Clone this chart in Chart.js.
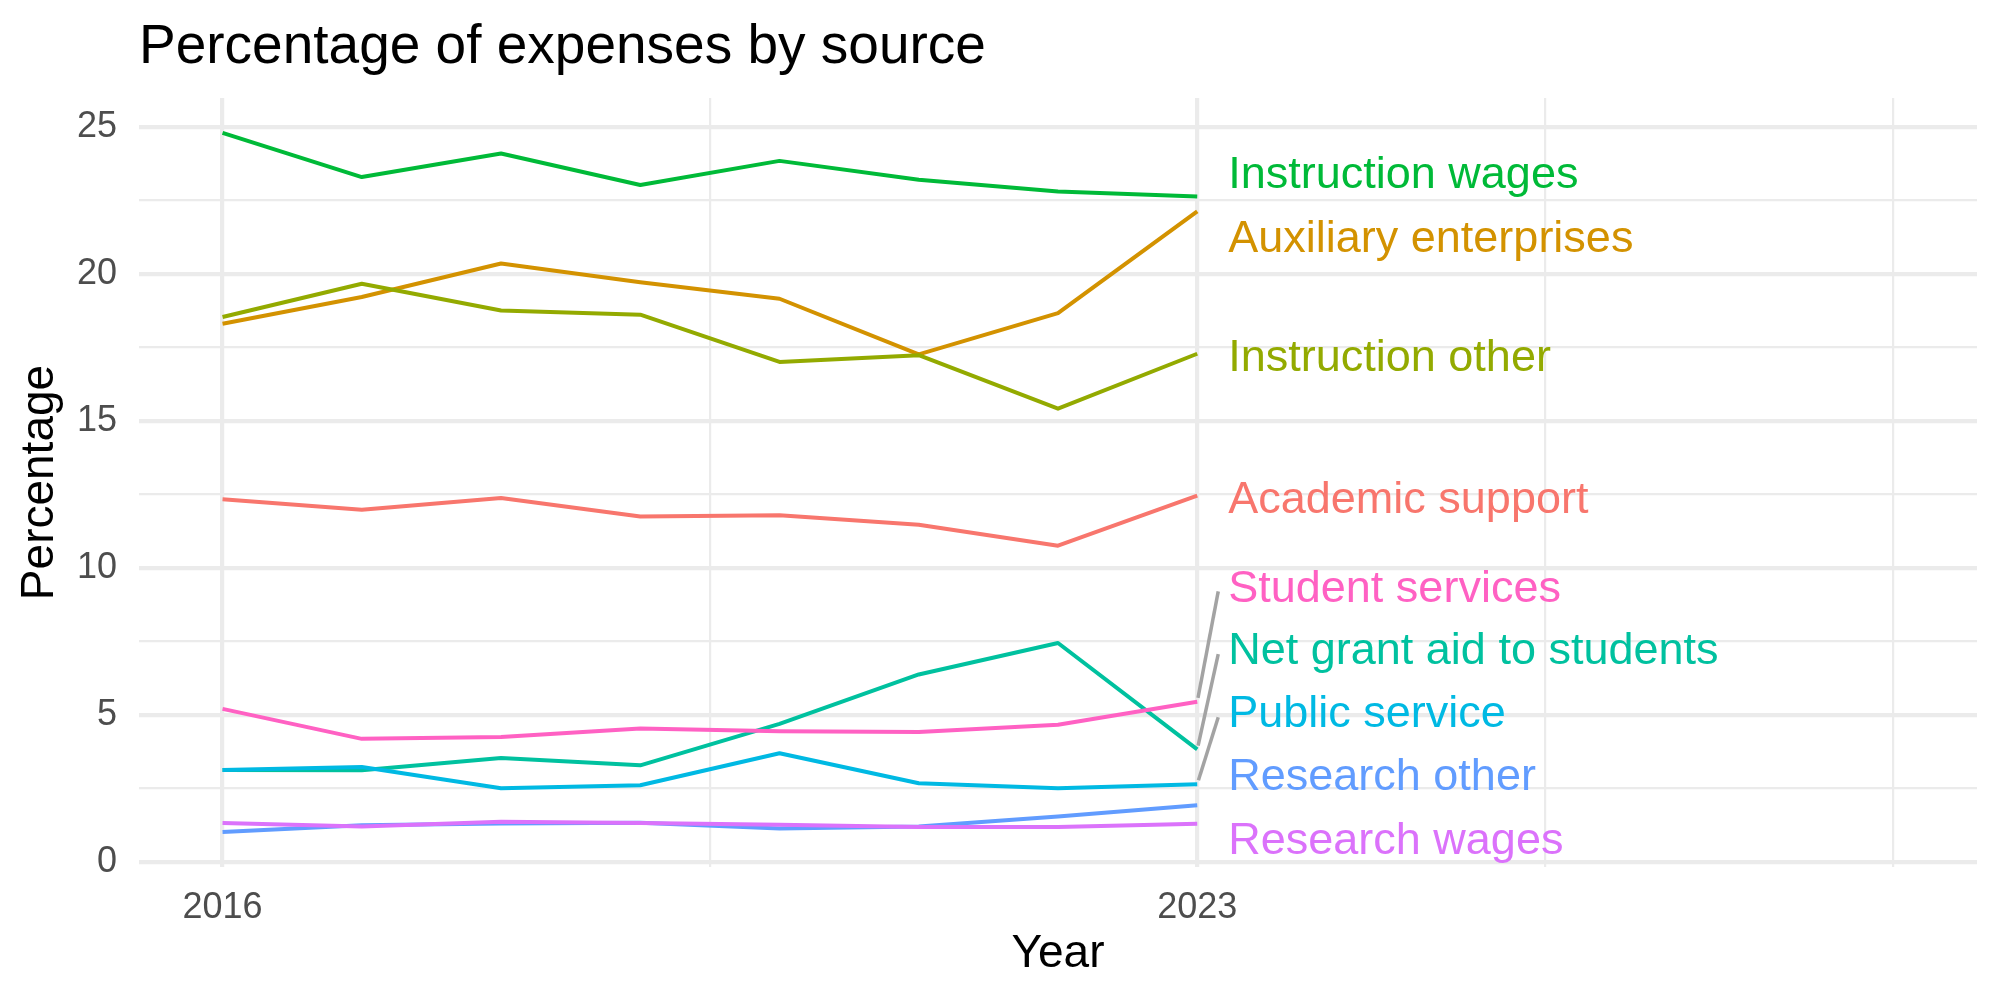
<!DOCTYPE html>
<html>
<head>
<meta charset="utf-8">
<script src="https://cdn.jsdelivr.net/npm/chart.js@4.4.1/dist/chart.umd.min.js"></script>
<style>
html, body { margin: 0; padding: 0; background: #ffffff; }
canvas { display: block; }
</style>
</head>
<body>
<canvas id="chart" width="2000" height="1000"></canvas>
<script>
// ---------------- data ----------------
const years = [2016, 2017, 2018, 2019, 2020, 2021, 2022, 2023];

const academicSupport      = [12.34, 11.98, 12.38, 11.75, 11.80, 11.47, 10.76, 12.46];
const auxiliaryEnterprises = [18.31, 19.22, 20.36, 19.72, 19.16, 17.27, 18.67, 22.13];
const instructionOther     = [18.54, 19.67, 18.76, 18.62, 17.01, 17.24, 15.42, 17.29];
const instructionWages     = [24.80, 23.30, 24.10, 23.03, 23.85, 23.21, 22.81, 22.64];
const netGrantAid          = [3.13, 3.12, 3.54, 3.29, 4.70, 6.38, 7.45, 3.83];
const publicService        = [3.13, 3.23, 2.51, 2.61, 3.70, 2.68, 2.51, 2.65];
const researchOther        = [1.02, 1.25, 1.31, 1.34, 1.14, 1.21, 1.55, 1.93];
const researchWages        = [1.33, 1.21, 1.37, 1.33, 1.27, 1.19, 1.19, 1.30];
const studentServices      = [5.21, 4.19, 4.25, 4.54, 4.45, 4.42, 4.67, 5.45];

const seriesNames = [
  "Academic support", "Auxiliary enterprises", "Instruction other", "Instruction wages",
  "Net grant aid to students", "Public service", "Research other", "Research wages", "Student services"
];
const seriesValues = [
  academicSupport, auxiliaryEnterprises, instructionOther, instructionWages,
  netGrantAid, publicService, researchOther, researchWages, studentServices
];
const seriesColors = [
  "#F8766D", "#D39200", "#93AA00", "#00BA38", "#00C19F", "#00B9E3", "#619CFF", "#DB72FB", "#FF61C3"
];
// repelled label positions (value units) and whether a connector is drawn
const labelY = [12.43, 21.31, 17.26, 23.49, 7.28, 5.13, 2.99, 0.82, 9.41];
const labelHasSegment = [false, false, false, false, true, true, false, false, true];

const xTickValues = [2016, 2019.5, 2023, 2025.5, 2028];
const xTickLabels = ["2016", "", "2023", "", ""];
const xMajorTicks = [2016, 2023];
const xLimits = [2015.4, 2028.6];

const yTickValues = [0, 2.5, 5, 7.5, 10, 12.5, 15, 17.5, 20, 22.5, 25];
const yTickLabels = ["0", "", "5", "", "10", "", "15", "", "20", "", "25"];

const titleText = "Percentage of expenses by source";
const xTitle = "Year";
const yTitle = "Percentage";

// ---------------- chart ----------------
const FONT = '"Liberation Sans", Arial, Helvetica, sans-serif';
const allVals = seriesValues.flat();
const vMin = Math.min(...allVals), vMax = Math.max(...allVals);
const vSpan = vMax - vMin;
const yMin = vMin - 0.05 * vSpan, yMax = vMax + 0.05 * vSpan;

const lastYear = years[years.length - 1];

const textPlugin = {
  id: 'ggText',
  beforeDraw(chart) {
    const c = chart.ctx;
    c.save();
    c.fillStyle = '#ffffff';
    c.fillRect(0, 0, chart.width, chart.height);
    c.restore();
  },
  afterDatasetsDraw(chart) {
    const c = chart.ctx;
    const xs = chart.scales.x, ys = chart.scales.y;
    const labelX = xs.getPixelForValue(lastYear) + 31;
    c.save();
    c.strokeStyle = '#A3A3A3';
    c.lineWidth = 3.5;
    c.lineCap = 'butt';
    seriesNames.forEach((name, i) => {
      if (!labelHasSegment[i]) return;
      const v = seriesValues[i][seriesValues[i].length - 1];
      const px = xs.getPixelForValue(lastYear), py = ys.getPixelForValue(v);
      const ex = labelX - 10, ey = ys.getPixelForValue(labelY[i]) + 6;
      const dx = ex - px, dy = ey - py, len = Math.hypot(dx, dy);
      const sx = px + dx / len * 4, sy = py + dy / len * 4;
      c.beginPath();
      c.moveTo(sx, sy);
      c.lineTo(ex, ey);
      c.stroke();
    });
    c.restore();
  },
  afterDraw(chart) {
    const c = chart.ctx;
    const xs = chart.scales.x, ys = chart.scales.y;
    const area = chart.chartArea;
    c.save();
    // series labels
    const labelX = xs.getPixelForValue(lastYear) + 31;
    c.font = '45px ' + FONT;
    c.textAlign = 'left';
    c.textBaseline = 'alphabetic';
    seriesNames.forEach((name, i) => {
      c.fillStyle = seriesColors[i];
      c.fillText(name, labelX, ys.getPixelForValue(labelY[i]) + 0.358 * 45);
    });
    // title
    c.fillStyle = '#000000';
    c.font = '55px ' + FONT;
    c.textAlign = 'left';
    c.fillText(titleText, area.left, 63.3);
    // x title
    c.font = '46px ' + FONT;
    c.textAlign = 'center';
    c.fillText(xTitle, (area.left + area.right) / 2, 966.7);
    // y title
    c.translate(53.3, (area.top + area.bottom) / 2);
    c.rotate(-Math.PI / 2);
    c.fillText(yTitle, 0, 0);
    c.restore();
  }
};

new Chart(document.getElementById('chart').getContext('2d'), {
  type: 'line',
  data: {
    datasets: seriesNames.map((name, i) => ({
      label: name,
      data: years.map((yr, k) => ({ x: yr, y: seriesValues[i][k] })),
      borderColor: seriesColors[i],
      backgroundColor: seriesColors[i],
      borderWidth: 4,
      pointRadius: 0,
      pointHoverRadius: 0,
      tension: 0,
      fill: false,
      borderJoinStyle: 'round',
      borderCapStyle: 'butt',
      order: seriesNames.length - i
    }))
  },
  options: {
    responsive: false,
    animation: false,
    devicePixelRatio: 1,
    layout: { padding: { top: 98, right: 23, left: 0, bottom: 0 } },
    plugins: { legend: { display: false }, tooltip: { enabled: false }, title: { display: false } },
    scales: {
      x: {
        type: 'linear',
        min: xLimits[0],
        max: xLimits[1],
        afterBuildTicks: (s) => { s.ticks = xTickValues.map(v => ({ value: v })); },
        afterFit: (s) => { s.height = 133; },
        ticks: {
          autoSkip: false,
          maxRotation: 0,
          minRotation: 0,
          padding: 19,
          color: '#4D4D4D',
          font: { family: FONT, size: 36 },
          callback: (value) => { const j = xTickValues.indexOf(value); return j >= 0 ? xTickLabels[j] : ''; }
        },
        grid: {
          color: '#EBEBEB',
          lineWidth: (ctx) => (ctx.tick && xMajorTicks.includes(ctx.tick.value)) ? 4.2 : 2.2,
          drawTicks: false
        },
        border: { display: false }
      },
      y: {
        type: 'linear',
        min: yMin,
        max: yMax,
        afterBuildTicks: (s) => { s.ticks = yTickValues.map(v => ({ value: v })); },
        afterFit: (s) => { s.width = 139; },
        ticks: {
          autoSkip: false,
          padding: 22,
          color: '#4D4D4D',
          font: { family: FONT, size: 36 },
          callback: (value) => { const j = yTickValues.indexOf(value); return j >= 0 ? yTickLabels[j] : ''; }
        },
        grid: {
          color: '#EBEBEB',
          lineWidth: (ctx) => (ctx.tick && ctx.tick.value % 5 === 0) ? 4.2 : 2.2,
          drawTicks: false
        },
        border: { display: false }
      }
    }
  },
  plugins: [textPlugin]
});
</script>
</body>
</html>
